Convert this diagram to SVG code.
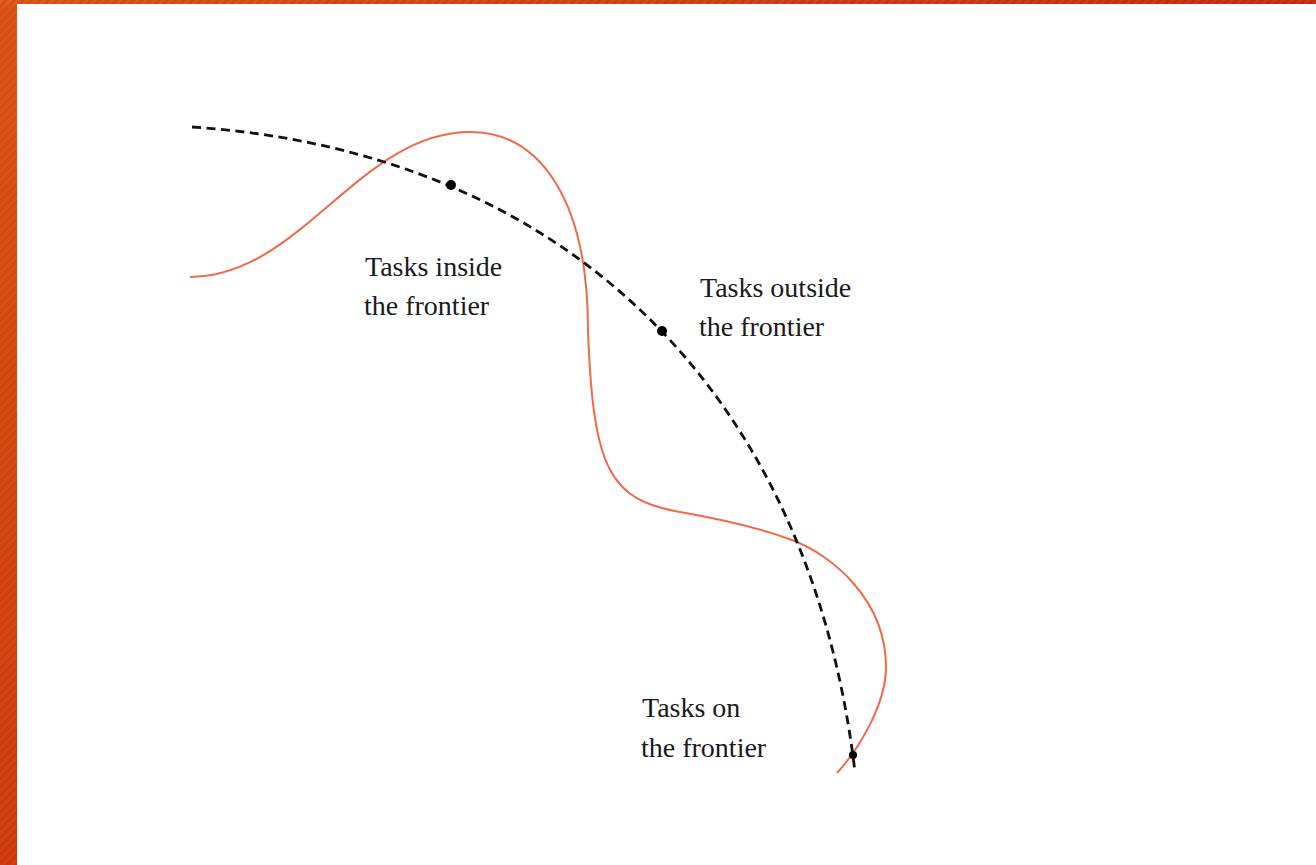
<svg xmlns="http://www.w3.org/2000/svg" width="1316" height="865" viewBox="0 0 1316 865">
  <defs>
    <linearGradient id="topGrad" x1="0" y1="0" x2="1" y2="0">
      <stop offset="0" stop-color="#d84e10"/>
      <stop offset="1" stop-color="#c0290d"/>
    </linearGradient>
    <linearGradient id="leftGrad" x1="0" y1="0" x2="0" y2="1">
      <stop offset="0" stop-color="#d84e10"/>
      <stop offset="1" stop-color="#cc3606"/>
    </linearGradient>
    <pattern id="stripes" width="6" height="6" patternUnits="userSpaceOnUse" patternTransform="rotate(45)">
      <rect width="3" height="6" fill="#ffffff" opacity="0.06"/>
    </pattern>
    <style>
      .lbl { font-family: "Liberation Serif", "Times New Roman", serif; font-size: 28px; fill: #1a1a1a; }
      .frontier { fill: none; stroke: #111111; stroke-width: 2.8; stroke-dasharray: 9 5.5; }
      .capability { fill: none; stroke: #f06a48; stroke-width: 2; }
      .dot { fill: #000000; }
    </style>
  </defs>

  <rect x="0" y="0" width="1316" height="865" fill="#ffffff"/>

  <g id="border">
    <rect x="0" y="0" width="1316" height="4" fill="url(#topGrad)"/>
    <rect x="0" y="0" width="17" height="865" fill="url(#leftGrad)"/>
    <rect x="0" y="0" width="1316" height="4" fill="url(#stripes)"/>
    <rect x="0" y="0" width="17" height="865" fill="url(#stripes)"/>
  </g>

  <g id="connectors">
    <path id="capability-curve" class="capability" d="M190,277 C300,277 360,132 470,132 C540,132 588,200 588,330 C593,470 610,500 680,512 C720,519 760,528 792,540 C832,555 886,600 886,667 C886,705 858,750 837,773"/>
    <path id="frontier-arc" class="frontier" d="M192,127 C566,152 810,392 855,772"/>
  </g>

  <g id="node-inside">
    <circle class="dot" cx="451" cy="185" r="5"/>
    <text class="lbl" x="365" y="276">Tasks inside</text>
    <text class="lbl" x="364" y="315">the frontier</text>
  </g>

  <g id="node-outside">
    <circle class="dot" cx="662" cy="331" r="5"/>
    <text class="lbl" x="700" y="297">Tasks outside</text>
    <text class="lbl" x="699" y="336">the frontier</text>
  </g>

  <g id="node-on">
    <circle class="dot" cx="853" cy="755" r="4"/>
    <text class="lbl" x="642" y="717">Tasks on</text>
    <text class="lbl" x="641" y="757">the frontier</text>
  </g>
</svg>
